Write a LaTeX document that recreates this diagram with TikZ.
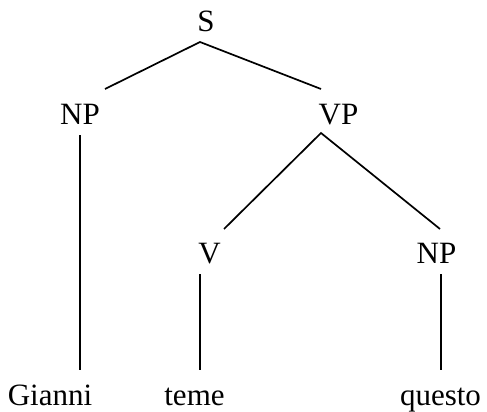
\documentclass[tikz,border=0pt]{standalone}
\usepackage{fontspec}
\setmainfont{Liberation Serif}
\begin{document}
\begin{tikzpicture}[x=1pt,y=-1pt,
  lab/.style={anchor=base,inner sep=0pt,font=\fontsize{31}{31}\selectfont},
  edge/.style={line width=1.7pt}]
\useasboundingbox (0,0) rectangle (487,412);
\node[lab] (S) at (206,32) {S};
\node[lab] (NP1) at (80,124) {NP};
\node[lab] (VP) at (338.5,124) {VP};
\node[lab] (V) at (209.5,263) {V};
\node[lab] (NP2) at (436.5,263) {NP};
\node[lab] (Gianni) at (50,405) {Gianni};
\node[lab] (teme) at (194.5,405) {teme};
\node[lab] (questo) at (440.5,405) {questo};
\coordinate (sA) at (200,42);
\coordinate (np1T) at (105,89);
\coordinate (vpT) at (321,89);
\coordinate (np1B) at (80,135);
\coordinate (giT) at (80,370);
\coordinate (vpA) at (321,133);
\coordinate (vT) at (224,229);
\coordinate (np2T) at (440,229);
\coordinate (vB) at (200,274);
\coordinate (teT) at (200,370);
\coordinate (np2B) at (441,274);
\coordinate (quT) at (441,370);
\draw[edge] (np1T) -- (sA) -- (vpT);
\draw[edge] (np1B) -- (giT);
\draw[edge] (vT) -- (vpA) -- (np2T);
\draw[edge] (vB) -- (teT);
\draw[edge] (np2B) -- (quT);
\end{tikzpicture}
\end{document}
